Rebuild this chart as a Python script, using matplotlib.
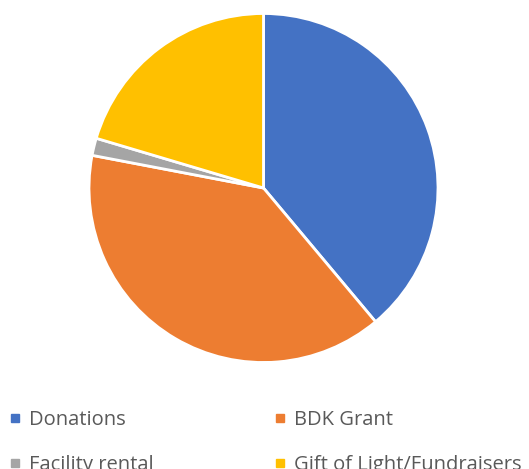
import matplotlib.pyplot as plt
from matplotlib.lines import Line2D

labels = ["Donations", "BDK Grant", "Facility rental", "Gift of Light/Fundraisers"]
shares = [38.9, 39.1, 1.6, 20.4]
colors = ["#4472C4", "#ED7D31", "#A5A5A5", "#FFC000"]

W, H = 529, 469
fig = plt.figure(figsize=(W / 100, H / 100), dpi=100)

# pie centre ~ (263.5, 188) px, radius ~174.5 px
cx, cy, r = 263.5, 188, 174.5
ax = fig.add_axes([(cx - r) / W, (H - cy - r) / H, 2 * r / W, 2 * r / H])
ax.pie(shares, colors=colors, startangle=90, counterclock=False, radius=1.0,
       wedgeprops=dict(edgecolor="white", linewidth=2))
ax.set_xlim(-1, 1)
ax.set_ylim(-1, 1)
ax.set_aspect("equal")
ax.axis("off")

handles = [Line2D([], [], marker="s", linestyle="none", markersize=5.5,
                  markerfacecolor=c, markeredgecolor=c) for c in colors]
# legend fills column-wise; reorder so rows read Donations | BDK Grant, ...
order = [0, 2, 1, 3]
fig.legend([handles[i] for i in order], [labels[i] for i in order], ncol=2,
           loc="upper left", bbox_to_anchor=(2 / W, 1 - 402 / H), frameon=False,
           prop={"family": "Open Sans", "size": 14.5}, labelcolor="#595959",
           handlelength=0.5, handletextpad=0.45, columnspacing=6.0,
           labelspacing=1.25, borderaxespad=0)

fig.savefig("out.png", dpi=100)
